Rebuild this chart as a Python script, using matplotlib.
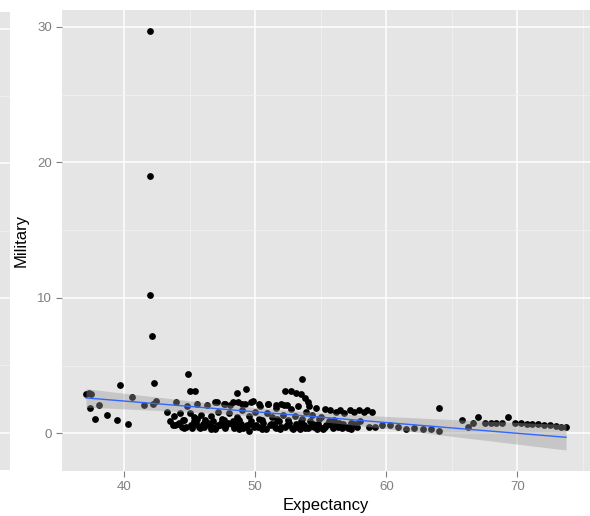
import numpy as np
import matplotlib.pyplot as plt
from matplotlib.ticker import MultipleLocator

plt.rcParams['font.family'] = ['Liberation Sans', 'DejaVu Sans']

# points (Expectancy, Military)
expectancy = [
    37.1, 37.3, 37.5, 37.4, 38.1, 37.75, 38.7, 39.5, 40.3, 40.6, 41.5, 39.7,
    42.0, 42.0, 42.0, 42.1, 42.3, 42.2, 42.4,
    44.9, 45.0, 45.4, 48.6, 49.3, 52.3, 52.7, 53.1, 53.5, 53.6, 53.8, 54.0, 54.1,
    43.3, 43.5, 43.7, 43.8, 44.0, 44.1, 44.3, 44.4, 44.6, 44.8, 45.0, 45.1,
    45.2, 45.3, 45.5, 45.6, 45.7, 45.9, 46.0, 46.2, 46.3, 46.5, 46.6, 46.8,
    47.0, 47.1, 47.2, 47.4, 47.5, 47.7, 47.8, 48.0, 48.1, 48.3, 48.4, 48.6,
    48.7, 48.9, 49.0, 49.2, 49.3, 49.5, 49.5, 49.7, 49.8, 50.0, 50.1, 50.3,
    50.4, 50.6, 50.7, 50.9, 51.0, 51.2, 51.3, 51.5, 51.6, 51.8, 51.9, 52.1,
    52.2, 52.4, 52.5, 52.7, 52.8, 53.0, 53.1, 53.3, 53.4, 53.6, 53.7, 53.9,
    54.0, 54.2, 54.3, 54.5, 54.6, 54.8, 55.0, 55.1, 55.3, 55.4, 55.6, 55.7,
    55.9, 56.0, 56.2, 56.3, 56.5, 56.7, 56.8, 57.0, 57.2, 57.3, 57.5, 57.7,
    57.9, 58.0, 58.3, 58.5, 58.7, 58.9,
    44.2, 44.7, 45.4, 45.8, 46.4, 46.9, 47.3, 47.9, 48.5, 49.1, 49.6, 50.2,
    50.8, 51.4, 52.0, 52.6, 53.2, 53.8, 54.4, 55.2, 55.8, 56.4, 57.1, 57.6,
    44.5, 45.6, 46.7, 47.6, 48.8, 50.5, 51.7, 53.5, 54.9, 56.1,
    43.9, 44.6, 45.3, 46.1, 46.6, 47.2, 47.7, 48.2, 48.8, 49.4, 49.9, 50.5,
    51.1, 51.6, 52.3, 52.9, 53.4, 54.1, 54.7, 55.3, 55.9, 56.6, 57.3, 57.8,
    46.9, 47.6, 48.3, 49.0, 49.7, 50.3, 51.0, 51.6, 52.0, 52.4,
    59.1, 59.65, 60.3, 60.9, 61.5, 62.1, 62.8, 63.4, 64.0, 64.0,
    65.8, 66.2, 66.6, 67.0, 67.5, 68.0, 68.4, 68.8, 69.3, 69.8, 70.3, 70.75,
    71.1, 71.6, 72.0, 72.5, 72.9, 73.3, 73.7,
]
military = [
    2.9, 3.0, 2.95, 1.9, 2.1, 1.1, 1.4, 0.96, 0.67, 2.7, 2.1, 3.6,
    29.7, 19.0, 10.2, 7.2, 3.7, 2.2, 2.4,
    4.4, 3.1, 3.1, 3.0, 3.3, 3.1, 3.1, 3.0, 2.9, 4.05, 2.6, 2.3, 2.0,
    1.55, 0.9, 0.6, 1.3, 2.3, 0.7, 1.5, 0.5, 1.0, 2.0, 1.5, 0.6,
    0.4, 1.2, 0.8, 2.2, 0.5, 1.4, 0.7, 1.0, 2.1, 0.6, 1.3, 0.9,
    0.5, 2.3, 1.6, 0.8, 1.1, 2.2, 0.6, 1.5, 2.1, 0.9, 0.4, 1.2,
    2.3, 0.7, 1.7, 2.2, 0.5, 0.2, 1.3, 0.9, 2.4, 1.6, 0.6, 1.1,
    2.0, 0.8, 0.4, 1.5, 2.2, 0.7, 1.2, 0.5, 1.9, 0.9, 0.3, 1.4,
    2.1, 0.6, 1.0, 1.8, 0.4, 1.3, 0.7, 2.0, 0.3, 1.1, 0.6, 1.6,
    0.4, 0.9, 1.4, 0.5, 1.9, 0.7, 1.2, 0.4, 1.8, 0.6, 0.9, 1.7,
    0.4, 1.0, 1.6, 0.5, 1.7, 0.7, 1.5, 0.5, 1.7, 0.8, 1.6, 0.6,
    1.7, 0.9, 1.6, 1.7, 0.5, 1.6,
    0.8, 0.5, 0.7, 0.4, 0.8, 0.3, 0.6, 0.8, 0.6, 0.4, 0.7, 0.5,
    0.3, 0.7, 0.5, 0.8, 0.5, 0.4, 0.7, 0.3, 0.6, 0.8, 0.4, 0.7,
    1.0, 1.1, 0.5, 1.0, 1.0, 1.0, 1.1, 0.9, 1.1, 0.8,
    0.6, 0.4, 0.9, 0.5, 0.3, 0.6, 0.4, 0.7, 0.3, 0.6, 0.5, 0.3,
    0.6, 0.4, 0.5, 0.3, 0.6, 0.5, 0.3, 0.5, 0.6, 0.4, 0.3, 0.5,
    2.3, 2.2, 2.3, 2.2, 2.3, 2.2, 2.2, 2.1, 2.2, 2.1,
    0.5, 0.6, 0.6, 0.45, 0.3, 0.4, 0.35, 0.3, 0.15, 1.85,
    0.96, 0.5, 0.8, 1.25, 0.75, 0.75, 0.75, 0.75, 1.25, 0.75, 0.75, 0.7,
    0.7, 0.7, 0.65, 0.6, 0.55, 0.5, 0.5,
]

x = np.array(expectancy)
y = np.array(military)

# linear fit + 95% band, like geom_smooth(method = "lm")
b, a = np.polyfit(x, y, 1)
xs = np.linspace(x.min(), x.max(), 80)
ys = a + b * xs
n = len(x)
resid = y - (a + b * x)
s = np.sqrt(np.sum(resid ** 2) / (n - 2))
se = s * np.sqrt(1 / n + (xs - x.mean()) ** 2 / np.sum((x - x.mean()) ** 2))
lo = ys - 1.97 * se
hi = ys + 1.97 * se

fig = plt.figure(figsize=(5.9, 5.16), dpi=100)

# bit of the neighbouring panel on the left
strip = fig.add_axes([0, 46 / 516, 10 / 590, 458 / 516])
strip.set_facecolor('#E5E5E5')
for sp in strip.spines.values():
    sp.set_visible(False)
strip.set_xticks([])
strip.set_yticks([])

ax = fig.add_axes([62 / 590, 45 / 516, 528 / 590, 461 / 516])
ax.set_facecolor('#E5E5E5')
for sp in ax.spines.values():
    sp.set_visible(False)

ax.fill_between(xs, lo, hi, color='#999999', alpha=0.4, lw=0, zorder=3)
ax.scatter(x, y, s=24, color='black', lw=0, zorder=2)
ax.plot(xs, ys, color='#3366FF', lw=1, zorder=4)

xr = x.max() - x.min()
ax.set_xlim(x.min() - 0.05 * xr, x.max() + 0.05 * xr)
ymin = min(y.min(), lo.min())
ymax = max(y.max(), hi.max())
yr = ymax - ymin
ax.set_ylim(ymin - 0.05 * yr, ymax + 0.05 * yr)
strip.set_ylim(ax.get_ylim())

ax.xaxis.set_major_locator(MultipleLocator(10))
ax.xaxis.set_minor_locator(MultipleLocator(5))
ax.yaxis.set_major_locator(MultipleLocator(10))
ax.yaxis.set_minor_locator(MultipleLocator(5))
ax.grid(which='major', color='white', lw=1.1, zorder=0)
ax.grid(which='minor', color='#F2F2F2', lw=0.5, zorder=0)
ax.set_axisbelow(True)
for v in [0, 10, 20, 30]:
    strip.axhline(v, color='white', lw=1.1)
for v in [5, 15, 25]:
    strip.axhline(v, color='#F2F2F2', lw=0.5)

ax.tick_params(which='major', length=4, width=0.8, color='#7F7F7F',
               labelcolor='#7F7F7F', labelsize=9.5, pad=3)
ax.tick_params(which='minor', length=0)

ax.set_xlabel('Expectancy', fontsize=12, labelpad=4)
ax.set_ylabel('Military', fontsize=12, labelpad=6)

fig.savefig('out.png', dpi=100)
